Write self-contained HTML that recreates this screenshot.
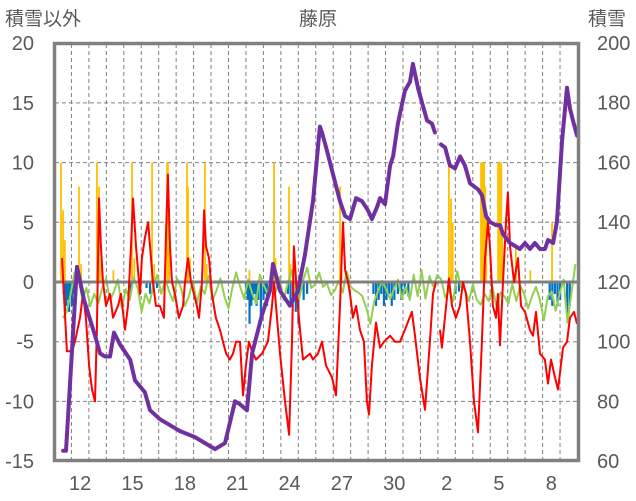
<!DOCTYPE html>
<html><head><meta charset="utf-8">
<style>
html,body{margin:0;padding:0;background:#fff;}
svg{display:block;font-family:"Liberation Sans","Noto Sans CJK JP",sans-serif;}
</style></head>
<body>
<svg id="chart" width="636" height="501" viewBox="0 0 636 501">
<defs><clipPath id="plotclip"><rect x="55" y="44" width="523" height="416"/></clipPath></defs>
<text x="5" y="25" font-size="19" fill="#595959">積雪以外</text>
<text x="318" y="25" font-size="19" fill="#595959" text-anchor="middle">藤原</text>
<text x="588" y="25" font-size="19" fill="#595959">積雪</text>
<g id="grid"></g><g id="bars" clip-path="url(#plotclip)"></g><g id="lines" clip-path="url(#plotclip)"></g><g id="axes"></g>
</svg>
<script>
const leftTicks=[20,15,10,5,0,-5,-10,-15];
const rightTicks=[200,180,160,140,120,100,80,60];
const xTickLabels=["12","15","18","21","24","27","30","2","5","8"];
const xTickDays=[1,4,7,10,13,16,19,22,25,28];
const snowT=[0.52,0.69,1.32,1.72,2.35,2.64,2.92,3.21,3.44,3.78,4.36,4.64,5.21,5.50,6.07,6.65,7.22,8.08,8.94,9.23,9.80,10.37,10.66,11.06,11.35,11.92,12.38,12.55,12.95,13.52,13.98,14.38,14.84,15.24,15.36,15.64,15.99,16.39,16.68,16.96,17.31,17.65,17.99,18.22,18.51,18.68,18.97,19.26,19.43,19.71,20.11,20.40,20.57,20.86,21.09,21.38,21.66,21.83,22.0,22.18,22.41,22.69,22.98,23.27,23.55,23.84,24.30,24.53,24.76,24.99,25.33,25.56,25.73,26.13,26.42,26.70,26.99,27.28,27.56,27.85,28.14,28.31,28.60,28.82,29.11,29.40,29.57,29.74,29.97];
const snowV=[63.4,63.4,125,114,102,96,95,95,103,99,94,87,83,77,74,72,70,68,65,64,66,80,79,77,96,109,117,126,117,112,117,129,147,172,170,164,156,147,142,141,148,147,144,141,145,148,146,159,162,173,184,187,193,185,180,174,173,170,null,166,165,159,158,162,159,153,151,149,142,140,139,139,136,133,132,131,133,131,133,131,131,134,133,140,167,185,178,174,169];
const tempT=[0.46,0.57,0.74,1.03,1.20,1.49,1.66,1.83,2.01,2.18,2.35,2.46,2.58,2.69,2.81,2.98,3.21,3.38,3.67,3.84,4.07,4.24,4.41,4.53,4.70,4.93,5.04,5.21,5.39,5.56,5.67,5.84,6.07,6.30,6.42,6.53,6.65,6.76,6.93,7.16,7.39,7.51,7.68,7.85,8.02,8.19,8.31,8.48,8.60,8.71,8.88,9.05,9.28,9.51,9.86,10.08,10.26,10.43,10.66,10.83,11.00,11.17,11.35,11.57,11.92,12.26,12.49,12.61,12.78,12.95,13.24,13.47,13.64,13.75,13.92,14.10,14.27,14.67,14.84,15.13,15.36,15.59,15.93,16.16,16.39,16.56,16.68,16.85,16.96,17.13,17.31,17.53,17.76,17.93,18.05,18.22,18.45,18.68,18.91,19.26,19.54,19.83,20.11,20.51,20.69,20.97,21.26,21.54,21.72,21.89,22.0,22.12,22.23,22.40,22.63,22.81,23.03,23.26,23.44,23.61,23.84,24.07,24.30,24.52,24.70,24.87,24.98,25.15,25.33,25.44,25.56,25.73,25.90,26.01,26.13,26.36,26.59,26.76,26.99,27.27,27.45,27.62,27.85,28.13,28.31,28.48,28.71,28.88,29.17,29.40,29.57,29.80,29.97];
const tempV=[2,-1,-5.8,-5.8,-5,-3,-1,-3,-7,-9,-10,-4,7,3,0,-2,-1,-3,-2,-1,-4,-2,3,7,3,-1,2,3.7,5,2,0,-2,-2,-3,4,9,3,0,-1,-3,-2,0,2,0,-1,-2,-3,0,6,3,2,-1,-3,-4,-6,-6.5,-6,-5,-5,-9.5,-7,-5,-5.8,-6.5,-6,-5,-2,0,-3,-6,-10,-12.8,-5,3,-1,-4,-6.5,-6,-6.5,-6,-5,-7,-8,-9.5,-2,5,1,0,-1,-3,-2,-4,-5,-10,-11.1,-7,-3.4,-5.5,-5,-4.5,-5,-5,-4,-2.5,-4.5,-8,-10.7,-5,-1,0,null,-4,-5.5,-3,0.3,-2,-3,-2,0,-1,-5,-10,-12.6,-5,2,5,3,-2,-3,-1,-5.3,0,5,7.5,3,0,2,-2,-2.5,-4,-4.5,-2.5,-6,-6.5,-8.5,-6.5,-8,-9,-5.5,-5,-3,-2.5,-3.5];
const windStart=0.5, windStep=0.226;
const windV=[-3,-2.5,-1,0.8,0.5,-1.5,-0.5,-2,-1,-1.8,-0.5,0.3,-1.5,-0.8,0.2,-2.2,-0.6,-1.5,0.4,-0.5,-2.5,-1,-1.8,-0.3,0.6,-1,0.2,-0.8,-1.6,0.3,-0.5,-2,-1.2,0.1,-1.8,-0.4,-1,0.5,-1.5,-0.7,0.3,-1.2,-2.2,-0.5,0.8,-0.4,-1.4,0.2,-0.9,-1.8,0.6,-0.3,-1,0.7,-0.8,0.4,-1.5,-0.2,1,-0.6,-1.4,0.2,1.2,-0.5,-0.2,0.8,-0.4,-0.1,-1.1,-0.7,0.1,-0.9,0.9,-0.4,-0.7,-0.9,-1.2,-2.2,-3.5,-1.6,-0.7,0.1,-0.6,-1.4,-0.6,0.2,-1.4,-0.4,-1.5,0.6,-1.2,1,-1.4,0.5,-0.4,0.6,0.2,-1.3,-0.7,-1.6,0.9,-0.4,-0.7,-1.6,-0.2,-1.5,-1.9,-1,-1.6,-0.4,-2.1,-0.9,-1.2,-1.8,-0.2,-1.6,-0.3,-1,-2.2,-1.2,-0.4,-1.5,-3.2,-1.2,-0.8,-2.4,-1,0.2,-3.4,-0.9,1.5];
const precipT=[0.40,0.52,0.62,1.43,1.55,2.46,2.58,2.70,3.40,4.47,4.60,5.62,5.75,6.48,6.53,6.60,7.62,7.68,7.80,8.65,8.75,11.20,12.61,12.70,13.47,13.55,16.39,16.48,22.63,22.75,22.85,24.47,24.53,24.59,24.65,24.71,24.77,25.45,25.51,25.57,25.63,25.69,26.47,27.30,28.54];
const precipV=[10,6,3.5,8,1.5,10,8,2,1,10,2,10,1.5,10,10,3,10,8,2,10,1.5,1,10,2,8,1.5,8,1,10,7,5,10,10,10,10,8,6,10,10,10,10,4,3,1,5];
const meltT=[0.55,0.62,0.70,0.78,0.86,0.94,1.02,1.10,4.40,5.30,5.50,5.70,5.90,11.00,11.10,11.20,11.30,11.40,11.50,11.60,11.70,11.85,12.00,12.10,12.20,13.40,13.55,13.70,13.85,14.00,14.10,14.30,14.50,18.30,18.45,18.60,18.75,18.90,19.05,19.20,19.35,19.50,19.70,19.90,20.10,20.30,23.00,23.20,28.40,28.55,28.70,28.85,29.00,29.40,29.55];
const meltV=[-1,-2.5,-2,-1.5,-2.5,-1,-2,-1,-1,-0.5,-1,-0.8,-0.5,-1,-1.5,-3.5,-2,-1.5,-1,-2,-1.5,-3.5,-1.5,-1,-2,-1,-2,-1.5,-2.5,-3.5,-1,-1.5,-1,-1,-2,-1.5,-1,-2,-1.5,-1,-2,-1.5,-1,-1.5,-1,-1.2,-1,-0.8,-1.5,-2,-1,-2,-1.5,-3,-2];
const NS="http://www.w3.org/2000/svg";
const X0=54, DAY=17.45, Y0=282, PX=11.94;
function xs(t){return X0+t*DAY;}
function yl(v){return Y0-v*PX;}
function yr(v){return 461-(v-60)*2.986;}
function mk(tag,attrs,parent){const e=document.createElementNS(NS,tag);for(const k in attrs)e.setAttribute(k,attrs[k]);parent.appendChild(e);return e;}
const grid=document.getElementById('grid'),bars=document.getElementById('bars'),lines=document.getElementById('lines'),axes=document.getElementById('axes');
for(let d=1;d<30;d++){const g=mk('line',{x1:xs(d),x2:xs(d),y1:44,y2:460,stroke:'#808080','stroke-width':1,'stroke-dasharray':'4,3'},grid);

}
leftTicks.forEach(v=>{if(v!==20&&v!==-15&&v!==0){const g=mk('line',{x1:55,x2:578,y1:yl(v),y2:yl(v),stroke:'#808080','stroke-width':1,'stroke-dasharray':'4,3'},grid);

}
const t=mk('text',{x:34,y:yl(v)+7,'font-size':20,fill:'#595959','text-anchor':'end'},axes);t.textContent=String(v);

});
rightTicks.forEach(v=>{const t=mk('text',{x:597,y:yr(v)+7,'font-size':20,fill:'#595959'},axes);t.textContent=String(v);

});
xTickLabels.forEach((s,i)=>{const t=mk('text',{x:xs(xTickDays[i]+0.5),y:490,'font-size':20,fill:'#595959','text-anchor':'middle'},axes);t.textContent=s;

});
precipT.forEach((t,i)=>{const v=precipV[i];const r=mk('rect',{x:xs(t)-0.9,y:yl(v),width:1.8,height:Y0-yl(v),fill:'#ffc000'},bars);

});
meltT.forEach((t,i)=>{const v=meltV[i];const r=mk('rect',{x:xs(t)-1,y:Y0,width:2.2,height:yl(v)-Y0,fill:'#0070c0'},bars);

});
function pathFrom(ts,vs,yf){let d='',pen=false;ts.forEach((t,i)=>{const v=vs[i];if(v===null){pen=false;return;}d+=(pen?'L':'M')+xs(t).toFixed(1)+','+yf(v).toFixed(1);pen=true;});return d;}
const windTs=windV.map((_,i)=>windStart+i*windStep);
const gl=mk('path',{d:pathFrom(windTs,windV,yl),fill:'none',stroke:'#92d050','stroke-width':2,'stroke-linejoin':'round'},lines);


const zl=mk('line',{x1:55,x2:578,y1:Y0,y2:Y0,stroke:'#808080','stroke-width':3},lines);


const rl=mk('path',{d:pathFrom(tempT,tempV,yl),fill:'none',stroke:'#ff0000','stroke-width':2,'stroke-linejoin':'round'},lines);


const pl=mk('path',{d:pathFrom(snowT,snowV,yr),fill:'none',stroke:'#7030a0','stroke-width':4,'stroke-linejoin':'round','stroke-linecap':'round'},lines);


const fr=mk('rect',{x:54.5,y:43.5,width:524,height:417,fill:'none',stroke:'#808080','stroke-width':3.5},axes);


</script>
</body></html>
